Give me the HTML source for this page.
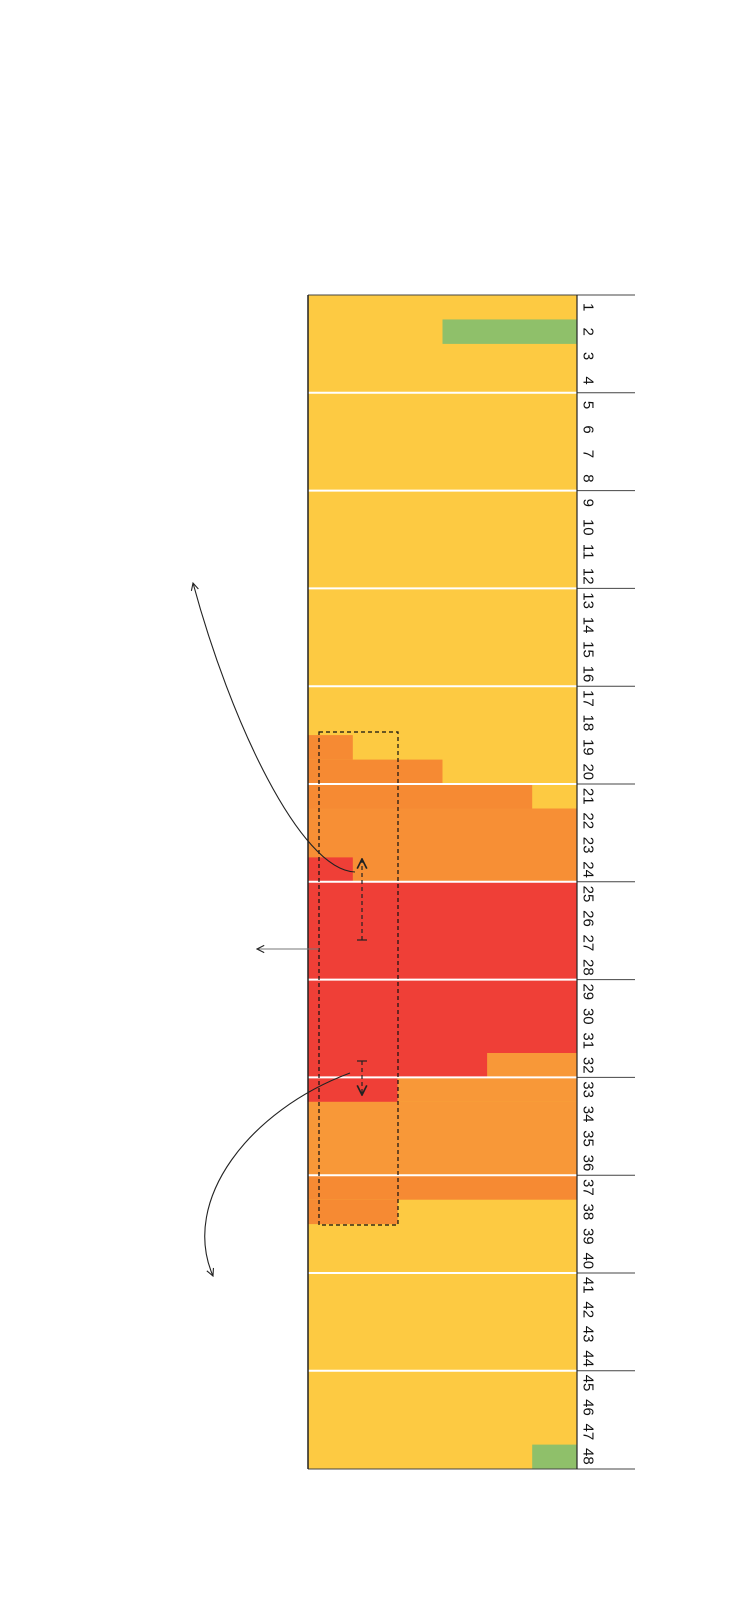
<!DOCTYPE html>
<html><head><meta charset="utf-8"><style>html,body{margin:0;padding:0;background:#fff}svg{display:block}</style></head>
<body>
<svg width="750" height="1620" viewBox="0 0 750 1620" xmlns="http://www.w3.org/2000/svg">
<defs>
<marker id="ah" viewBox="0 0 10 10" refX="9" refY="5" markerWidth="9" markerHeight="9" orient="auto" markerUnits="userSpaceOnUse"><path d="M1,1 L9,5 L1,9" fill="none" stroke="#222" stroke-width="1.2"/></marker>
<marker id="ah2" viewBox="0 0 10 10" refX="9" refY="5" markerWidth="12" markerHeight="12" orient="auto" markerUnits="userSpaceOnUse"><path d="M1,1 L9,5 L1,9" fill="none" stroke="#222" stroke-width="1.4"/></marker>
</defs>
<rect x="308" y="295" width="269" height="1174" fill="#FDCA42"/>
<rect x="442.5" y="319.45" width="134.5" height="24.45" fill="#8FC06A"/>
<rect x="308" y="735.1" width="44.8" height="24.5" fill="#F68A33"/>
<rect x="308" y="759.6" width="134.5" height="24.4" fill="#F68A33"/>
<rect x="308" y="784" width="224.2" height="24.5" fill="#F68A33"/>
<rect x="308" y="808.5" width="269" height="73.4" fill="#F78F35"/>
<rect x="308" y="857.4" width="44.8" height="24.5" fill="#EF3F37"/>
<rect x="308" y="881.9" width="269" height="171.1" fill="#EF3F37"/>
<rect x="308" y="1053" width="179.3" height="24.4" fill="#EF3F37"/>
<rect x="487.3" y="1053" width="89.7" height="24.4" fill="#F89838"/>
<rect x="308" y="1077.4" width="89.7" height="24.5" fill="#EF3F37"/>
<rect x="397.7" y="1077.4" width="179.3" height="24.5" fill="#F89838"/>
<rect x="308" y="1101.9" width="269" height="73.3" fill="#F89838"/>
<rect x="308" y="1175.2" width="269" height="24.5" fill="#F68A33"/>
<rect x="308" y="1199.7" width="89.7" height="24.4" fill="#F68A33"/>
<rect x="532.2" y="1444.6" width="44.8" height="24.4" fill="#8FC06A"/>
<g stroke="#fff" stroke-width="2">
<line x1="308" x2="577" y1="392.8" y2="392.8"/><line x1="308" x2="577" y1="490.6" y2="490.6"/><line x1="308" x2="577" y1="588.4" y2="588.4"/><line x1="308" x2="577" y1="686.2" y2="686.2"/><line x1="308" x2="577" y1="784" y2="784"/><line x1="308" x2="577" y1="881.8" y2="881.8"/><line x1="308" x2="577" y1="979.6" y2="979.6"/><line x1="308" x2="577" y1="1077.4" y2="1077.4"/><line x1="308" x2="577" y1="1175.2" y2="1175.2"/><line x1="308" x2="577" y1="1273" y2="1273"/><line x1="308" x2="577" y1="1370.8" y2="1370.8"/>
</g>
<g stroke="#444" stroke-width="1">
<line x1="308" x2="635" y1="295" y2="295"/><line x1="308" x2="635" y1="1469" y2="1469"/>
<line x1="577" x2="635" y1="392.8" y2="392.8"/><line x1="577" x2="635" y1="490.6" y2="490.6"/><line x1="577" x2="635" y1="588.4" y2="588.4"/><line x1="577" x2="635" y1="686.2" y2="686.2"/><line x1="577" x2="635" y1="784" y2="784"/><line x1="577" x2="635" y1="881.8" y2="881.8"/><line x1="577" x2="635" y1="979.6" y2="979.6"/><line x1="577" x2="635" y1="1077.4" y2="1077.4"/><line x1="577" x2="635" y1="1175.2" y2="1175.2"/><line x1="577" x2="635" y1="1273" y2="1273"/><line x1="577" x2="635" y1="1370.8" y2="1370.8"/>
<line x1="308" x2="308" y1="295" y2="1469" stroke="#222" stroke-width="1.5"/><line x1="577" x2="577" y1="295" y2="1469" stroke="#222" stroke-width="1.2"/>
</g>
<rect x="319" y="732" width="79" height="493" fill="none" stroke="#111" stroke-width="1.2" stroke-dasharray="4,3"/>
<line x1="362" y1="940" x2="362" y2="859" stroke="#222" stroke-width="1.2" stroke-dasharray="4,3" marker-end="url(#ah2)"/>
<line x1="357" y1="940" x2="367" y2="940" stroke="#222" stroke-width="1.2"/>
<line x1="362" y1="1061" x2="362" y2="1095" stroke="#222" stroke-width="1.2" stroke-dasharray="4,3" marker-end="url(#ah2)"/>
<line x1="357" y1="1061" x2="367" y2="1061" stroke="#222" stroke-width="1.2"/>
<path d="M355,872 C300,870 230,720 193,583" fill="none" stroke="#222" stroke-width="1.1" marker-end="url(#ah)"/>
<line x1="319" y1="949" x2="257" y2="949" stroke="#777" stroke-width="1.1" marker-end="url(#ah)"/>
<path d="M350,1073 C250,1110 180,1200 213,1276" fill="none" stroke="#222" stroke-width="1.1" marker-end="url(#ah)"/>
<g font-family="Liberation Sans, sans-serif" font-size="15" fill="#111" text-anchor="middle" dominant-baseline="central">
<text transform="translate(588,307.2) rotate(90)">1</text>
<text transform="translate(588,331.7) rotate(90)">2</text>
<text transform="translate(588,356.1) rotate(90)">3</text>
<text transform="translate(588,380.6) rotate(90)">4</text>
<text transform="translate(588,405.0) rotate(90)">5</text>
<text transform="translate(588,429.5) rotate(90)">6</text>
<text transform="translate(588,453.9) rotate(90)">7</text>
<text transform="translate(588,478.4) rotate(90)">8</text>
<text transform="translate(588,502.8) rotate(90)">9</text>
<text transform="translate(588,527.3) rotate(90)">10</text>
<text transform="translate(588,551.7) rotate(90)">11</text>
<text transform="translate(588,576.2) rotate(90)">12</text>
<text transform="translate(588,600.6) rotate(90)">13</text>
<text transform="translate(588,625.1) rotate(90)">14</text>
<text transform="translate(588,649.5) rotate(90)">15</text>
<text transform="translate(588,674.0) rotate(90)">16</text>
<text transform="translate(588,698.4) rotate(90)">17</text>
<text transform="translate(588,722.9) rotate(90)">18</text>
<text transform="translate(588,747.3) rotate(90)">19</text>
<text transform="translate(588,771.8) rotate(90)">20</text>
<text transform="translate(588,796.2) rotate(90)">21</text>
<text transform="translate(588,820.7) rotate(90)">22</text>
<text transform="translate(588,845.1) rotate(90)">23</text>
<text transform="translate(588,869.6) rotate(90)">24</text>
<text transform="translate(588,894.0) rotate(90)">25</text>
<text transform="translate(588,918.5) rotate(90)">26</text>
<text transform="translate(588,942.9) rotate(90)">27</text>
<text transform="translate(588,967.4) rotate(90)">28</text>
<text transform="translate(588,991.8) rotate(90)">29</text>
<text transform="translate(588,1016.3) rotate(90)">30</text>
<text transform="translate(588,1040.7) rotate(90)">31</text>
<text transform="translate(588,1065.2) rotate(90)">32</text>
<text transform="translate(588,1089.6) rotate(90)">33</text>
<text transform="translate(588,1114.1) rotate(90)">34</text>
<text transform="translate(588,1138.5) rotate(90)">35</text>
<text transform="translate(588,1163.0) rotate(90)">36</text>
<text transform="translate(588,1187.4) rotate(90)">37</text>
<text transform="translate(588,1211.9) rotate(90)">38</text>
<text transform="translate(588,1236.3) rotate(90)">39</text>
<text transform="translate(588,1260.8) rotate(90)">40</text>
<text transform="translate(588,1285.2) rotate(90)">41</text>
<text transform="translate(588,1309.7) rotate(90)">42</text>
<text transform="translate(588,1334.1) rotate(90)">43</text>
<text transform="translate(588,1358.6) rotate(90)">44</text>
<text transform="translate(588,1383.0) rotate(90)">45</text>
<text transform="translate(588,1407.5) rotate(90)">46</text>
<text transform="translate(588,1431.9) rotate(90)">47</text>
<text transform="translate(588,1456.4) rotate(90)">48</text>
</g>
</svg>
</body></html>
